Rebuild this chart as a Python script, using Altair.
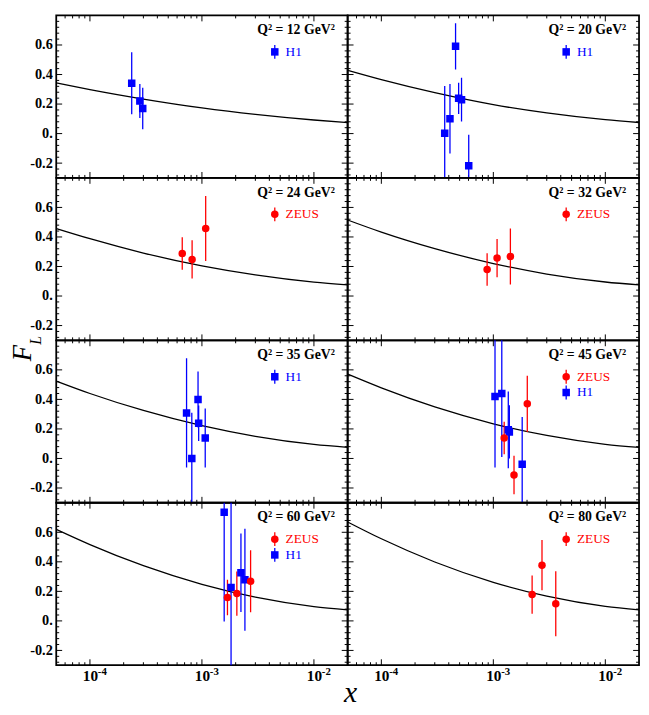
import altair as alt
import pandas as pd

# ---------------- data ----------------
q2_values = [12, 20, 24, 32, 35, 45, 60, 80]

# theory curve sampled at these x values
curve_x = [5e-5, 1e-4, 3e-4, 1e-3, 3e-3, 1e-2, 2e-2]
curve_12 = [0.344, 0.298, 0.234, 0.174, 0.130, 0.092, 0.075]
curve_20 = [0.428, 0.365, 0.277, 0.196, 0.140, 0.094, 0.075]
curve_24 = [0.457, 0.388, 0.291, 0.204, 0.143, 0.094, 0.075]
curve_32 = [0.515, 0.433, 0.321, 0.220, 0.149, 0.095, 0.075]
curve_35 = [0.524, 0.440, 0.325, 0.222, 0.150, 0.095, 0.075]
curve_45 = [0.571, 0.478, 0.349, 0.235, 0.156, 0.096, 0.075]
curve_60 = [0.620, 0.517, 0.374, 0.248, 0.161, 0.097, 0.075]
curve_80 = [0.670, 0.556, 0.399, 0.261, 0.167, 0.098, 0.075]

# H1 measurements
h1_x_12 = [2.36e-4, 2.79e-4, 2.96e-4]
h1_fl_12 = [0.341, 0.221, 0.170]
h1_err_12 = [0.21, 0.115, 0.14]

h1_x_20 = [3.68e-4, 4.10e-4, 4.60e-4, 4.90e-4, 5.20e-4, 6.03e-4]
h1_fl_20 = [0.003, 0.10, 0.591, 0.239, 0.230, -0.218]
h1_err_20 = [0.32, 0.235, 0.157, 0.106, 0.148, 0.21]

h1_x_35 = [7.29e-4, 8.12e-4, 9.23e-4, 9.35e-4, 1.07e-3]
h1_fl_35 = [0.308, 0.0, 0.399, 0.239, 0.138]
h1_err_35 = [0.37, 0.31, 0.19, 0.12, 0.20]

h1_x_45 = [1.035e-3, 1.19e-3, 1.36e-3, 1.39e-3, 1.81e-3]
h1_fl_45 = [0.419, 0.44, 0.194, 0.18, -0.04]
h1_err_45 = [0.48, 0.43, 0.26, 0.18, 0.32]

h1_x_60 = [1.58e-3, 1.82e-3, 2.23e-3, 2.42e-3]
h1_fl_60 = [0.736, 0.227, 0.326, 0.279]
h1_err_60 = [0.74, 0.60, 0.265, 0.345]

# ZEUS measurements
zeus_x_24 = [6.67e-4, 8.17e-4, 1.08e-3]
zeus_fl_24 = [0.288, 0.248, 0.457]
zeus_err_24 = [0.11, 0.13, 0.22]

zeus_x_32 = [8.8e-4, 1.08e-3, 1.42e-3]
zeus_fl_32 = [0.179, 0.257, 0.268]
zeus_err_32 = [0.11, 0.13, 0.19]

zeus_x_45 = [1.25e-3, 1.53e-3, 2.01e-3]
zeus_fl_45 = [0.138, -0.112, 0.37]
zeus_err_45 = [0.11, 0.13, 0.19]

zeus_x_60 = [1.69e-3, 2.05e-3, 2.72e-3]
zeus_fl_60 = [0.158, 0.185, 0.268]
zeus_err_60 = [0.12, 0.15, 0.21]

zeus_x_80 = [2.22e-3, 2.72e-3, 3.61e-3]
zeus_fl_80 = [0.178, 0.377, 0.116]
zeus_err_80 = [0.13, 0.17, 0.22]

# axis ticks
y_major = [-0.2, 0.0, 0.2, 0.4, 0.6]
y_minor = [-0.28, -0.24, -0.16, -0.12, -0.08, -0.04, 0.04, 0.08, 0.12, 0.16,
           0.24, 0.28, 0.32, 0.36, 0.44, 0.48, 0.52, 0.56, 0.64, 0.68, 0.72, 0.76]
x_major = [1e-4, 1e-3, 1e-2]
x_tick_base = "10"
x_tick_exponents = ["-4", "-3", "-2"]
x_minor = [6e-5, 7e-5, 8e-5, 9e-5,
           2e-4, 3e-4, 4e-4, 5e-4, 6e-4, 7e-4, 8e-4, 9e-4,
           2e-3, 3e-3, 4e-3, 5e-3, 6e-3, 7e-3, 8e-3, 9e-3]

series_names = ["ZEUS", "H1"]
series_colors = {"ZEUS": "#ff0000", "H1": "#0000ff"}
series_shapes = {"ZEUS": "circle", "H1": "square"}

# ---------------- assembly ----------------
curves = {12: curve_12, 20: curve_20, 24: curve_24, 32: curve_32,
          35: curve_35, 45: curve_45, 60: curve_60, 80: curve_80}
meas = {
    12: {"H1": (h1_x_12, h1_fl_12, h1_err_12)},
    20: {"H1": (h1_x_20, h1_fl_20, h1_err_20)},
    24: {"ZEUS": (zeus_x_24, zeus_fl_24, zeus_err_24)},
    32: {"ZEUS": (zeus_x_32, zeus_fl_32, zeus_err_32)},
    35: {"H1": (h1_x_35, h1_fl_35, h1_err_35)},
    45: {"ZEUS": (zeus_x_45, zeus_fl_45, zeus_err_45),
         "H1": (h1_x_45, h1_fl_45, h1_err_45)},
    60: {"ZEUS": (zeus_x_60, zeus_fl_60, zeus_err_60),
         "H1": (h1_x_60, h1_fl_60, h1_err_60)},
    80: {"ZEUS": (zeus_x_80, zeus_fl_80, zeus_err_80)},
}

W, H = 296, 165
SERIF = "Liberation Serif"
xs = alt.Scale(type="log", domain=[5e-5, 2e-2], nice=False)
ys = alt.Scale(domain=[-0.3, 0.8], nice=False, zero=False)

x_label_expr = "'%s'" % x_tick_base
y_label_expr = ("datum.value == 0 ? '0.' : (datum.value < 0 ? '-' + format(-datum.value, '.1f')"
                " : format(datum.value, '.1f'))")


def make_panel(idx):
    q2 = q2_values[idx]
    col, row = idx % 2, idx // 2
    xaxis = None
    yaxis = None
    if row == 3:
        xaxis = alt.Axis(values=x_major, labelExpr=x_label_expr, ticks=False, domain=False,
                         grid=False, labelFont=SERIF, labelFontSize=15.5, labelFontWeight="bold",
                         labelColor="black", labelPadding=4, labelAlign="center",
                         labelFlush=False, labelOverlap=False, title=None)
    if col == 0:
        yaxis = alt.Axis(values=y_major, labelExpr=y_label_expr, ticks=False, domain=False,
                         grid=False, labelFont=SERIF, labelFontSize=14.5, labelFontWeight="bold",
                         labelColor="black", labelPadding=4, labelFlush=False,
                         labelOverlap=False, title=None)

    def X(f):
        return alt.X(f, type="quantitative", scale=xs, axis=xaxis)

    def Y(f):
        return alt.Y(f, type="quantitative", scale=ys, axis=yaxis)

    layers = []
    # inward frame ticks
    for vals, ln in ((y_major, 6), (y_minor, 3)):
        d = pd.DataFrame({"v": vals})
        layers.append(alt.Chart(d).mark_rule(color="black", strokeWidth=1).encode(
            y=Y("v"), x=alt.value(0), x2=alt.value(ln)))
        layers.append(alt.Chart(d).mark_rule(color="black", strokeWidth=1).encode(
            y=Y("v"), x=alt.value(W - ln), x2=alt.value(W)))
    for vals, ln in ((x_major, 6), (x_minor, 3)):
        d = pd.DataFrame({"v": vals})
        layers.append(alt.Chart(d).mark_rule(color="black", strokeWidth=1).encode(
            x=X("v"), y=alt.value(0), y2=alt.value(ln)))
        layers.append(alt.Chart(d).mark_rule(color="black", strokeWidth=1).encode(
            x=X("v"), y=alt.value(H - ln), y2=alt.value(H)))

    # exponents of the x tick labels (bottom row)
    if row == 3:
        ed = pd.DataFrame({"v": x_major, "t": x_tick_exponents})
        layers.append(alt.Chart(ed).mark_text(font=SERIF, fontSize=11, fontWeight="bold",
                                              color="black", align="left", baseline="top",
                                              dx=8).encode(
            x=X("v"), y=alt.value(H + 1), text="t:N"))

    # theory curve
    cdf = pd.DataFrame({"x": curve_x, "fl": curves[q2]})
    layers.append(alt.Chart(cdf).mark_line(color="black", strokeWidth=1.3,
                                           interpolate="monotone", clip=True).encode(
        x=X("x"), y=Y("fl")))

    # measurements: error bars then markers
    present = [s for s in ["H1", "ZEUS"] if s in meas[q2]]
    for s in present:
        xv, fv, ev = meas[q2][s]
        d = pd.DataFrame({"x": xv, "fl": fv, "lo": [f - e for f, e in zip(fv, ev)],
                          "hi": [f + e for f, e in zip(fv, ev)]})
        layers.append(alt.Chart(d).mark_rule(color=series_colors[s], strokeWidth=1.3,
                                             clip=True).encode(
            x=X("x"), y=Y("lo"), y2=alt.Y2("hi")))
    for s in present:
        xv, fv, ev = meas[q2][s]
        d = pd.DataFrame({"x": xv, "fl": fv})
        layers.append(alt.Chart(d).mark_point(shape=series_shapes[s], filled=True, size=58,
                                              opacity=1, color=series_colors[s],
                                              clip=True).encode(x=X("x"), y=Y("fl")))

    # panel label
    lab = pd.DataFrame({"t": ["Q\u00b2 = %d GeV\u00b2" % q2]})
    layers.append(alt.Chart(lab).mark_text(font=SERIF, fontSize=14, fontWeight="bold",
                                           color="black", align="right",
                                           baseline="middle").encode(
        text="t:N", x=alt.value(W - 13), y=alt.value(15)))

    # in-panel legend
    entries = [s for s in series_names if s in meas[q2]]
    for i, s in enumerate(entries):
        y0 = 37 + 16 * i
        ed = pd.DataFrame({"t": [s]})
        layers.append(alt.Chart(ed).mark_rule(color=series_colors[s], strokeWidth=1.3).encode(
            x=alt.value(222), y=alt.value(y0 - 7), y2=alt.value(y0 + 7)))
        layers.append(alt.Chart(ed).mark_point(shape=series_shapes[s], filled=True, size=58,
                                               opacity=1, color=series_colors[s]).encode(
            x=alt.value(222), y=alt.value(y0)))
        layers.append(alt.Chart(ed).mark_text(font=SERIF, fontSize=13.5, color=series_colors[s],
                                              align="left", baseline="middle").encode(
            text="t:N", x=alt.value(233), y=alt.value(y0)))

    # shared axis titles
    if idx == 4:
        fd = pd.DataFrame({"t": ["F"]})
        ld = pd.DataFrame({"t": ["L"]})
        layers.append(alt.Chart(fd).mark_text(font=SERIF, fontSize=27, fontStyle="italic",
                                              color="black", angle=270, align="center",
                                              baseline="middle").encode(
            text="t:N", x=alt.value(-34), y=alt.value(13)))
        layers.append(alt.Chart(ld).mark_text(font=SERIF, fontSize=16, fontStyle="italic",
                                              color="black", angle=270, align="center",
                                              baseline="middle").encode(
            text="t:N", x=alt.value(-20), y=alt.value(0)))
    if idx == 7:
        xd = pd.DataFrame({"t": ["x"]})
        layers.append(alt.Chart(xd).mark_text(font=SERIF, fontSize=30, fontStyle="italic",
                                              color="black", align="center",
                                              baseline="middle").encode(
            text="t:N", x=alt.value(3), y=alt.value(193)))

    return alt.layer(*layers).properties(width=W, height=H)


panels = [make_panel(i) for i in range(len(q2_values))]

chart = alt.concat(*panels, columns=2, spacing=0, bounds="flush").properties(
    padding={"left": 0, "top": 0, "right": 0, "bottom": 0},
    background="white",
).configure_view(stroke="black", strokeWidth=1.8)

chart.save("out.html", embed_options={"renderer": "svg", "actions": False})
